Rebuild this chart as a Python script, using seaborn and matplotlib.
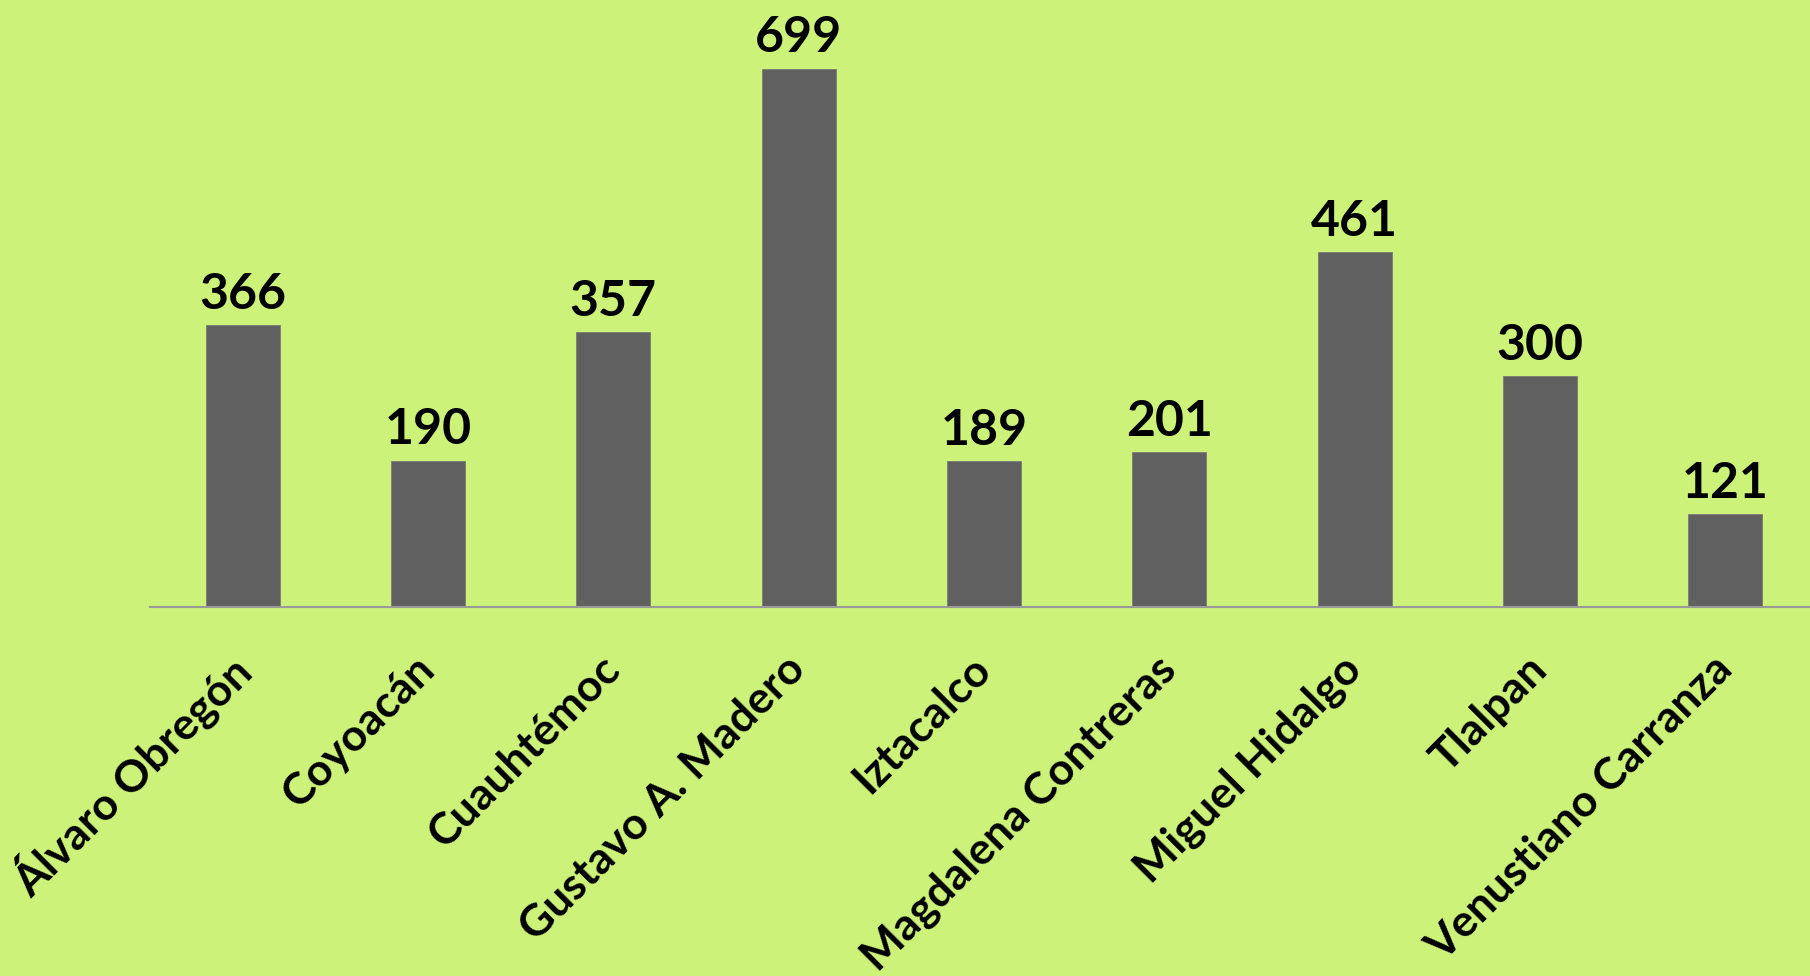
import pandas as pd
import matplotlib.pyplot as plt
import seaborn as sns

# datos por alcaldía
alcaldias = ['Álvaro Obregón', 'Coyoacán', 'Cuauhtémoc', 'Gustavo A. Madero',
             'Iztacalco', 'Magdalena Contreras', 'Miguel Hidalgo', 'Tlalpan',
             'Venustiano Carranza']
valores = [366, 190, 357, 699, 189, 201, 461, 300, 121]

df = pd.DataFrame({'alcaldia': alcaldias, 'valor': valores})

fondo = '#CCF27A'
sns.set_theme(style='white')
plt.rcParams['font.family'] = ['Lato', 'DejaVu Sans']

fig = plt.figure(figsize=(18.1, 9.76), dpi=100, facecolor=fondo)
ax = fig.add_axes([0.0829, 0.378, 0.9215, 0.622])
ax.set_facecolor(fondo)

sns.barplot(x='alcaldia', y='valor', data=df, color='#606060', saturation=1,
            width=0.4, edgecolor='#7a7a7a', linewidth=0.6, ax=ax)

# etiquetas de valor sobre cada barra
ax.bar_label(ax.containers[0], fontsize=36, fontweight='bold',
             color='black', padding=6)

ax.set_xlim(-0.5, 8.5)
ax.set_ylim(0, 788)
ax.set_xlabel('')
ax.set_ylabel('')
ax.set_yticks([])

for s in ['top', 'right', 'left']:
    ax.spines[s].set_visible(False)
ax.spines['bottom'].set_color('#999999')
ax.spines['bottom'].set_linewidth(1.5)

ax.tick_params(axis='x', length=0, pad=40)
plt.setp(ax.get_xticklabels(), rotation=45, ha='right', va='center',
         rotation_mode='anchor', fontsize=32, fontweight='bold',
         color='black')

fig.savefig('out.png', dpi=100, facecolor=fondo)
